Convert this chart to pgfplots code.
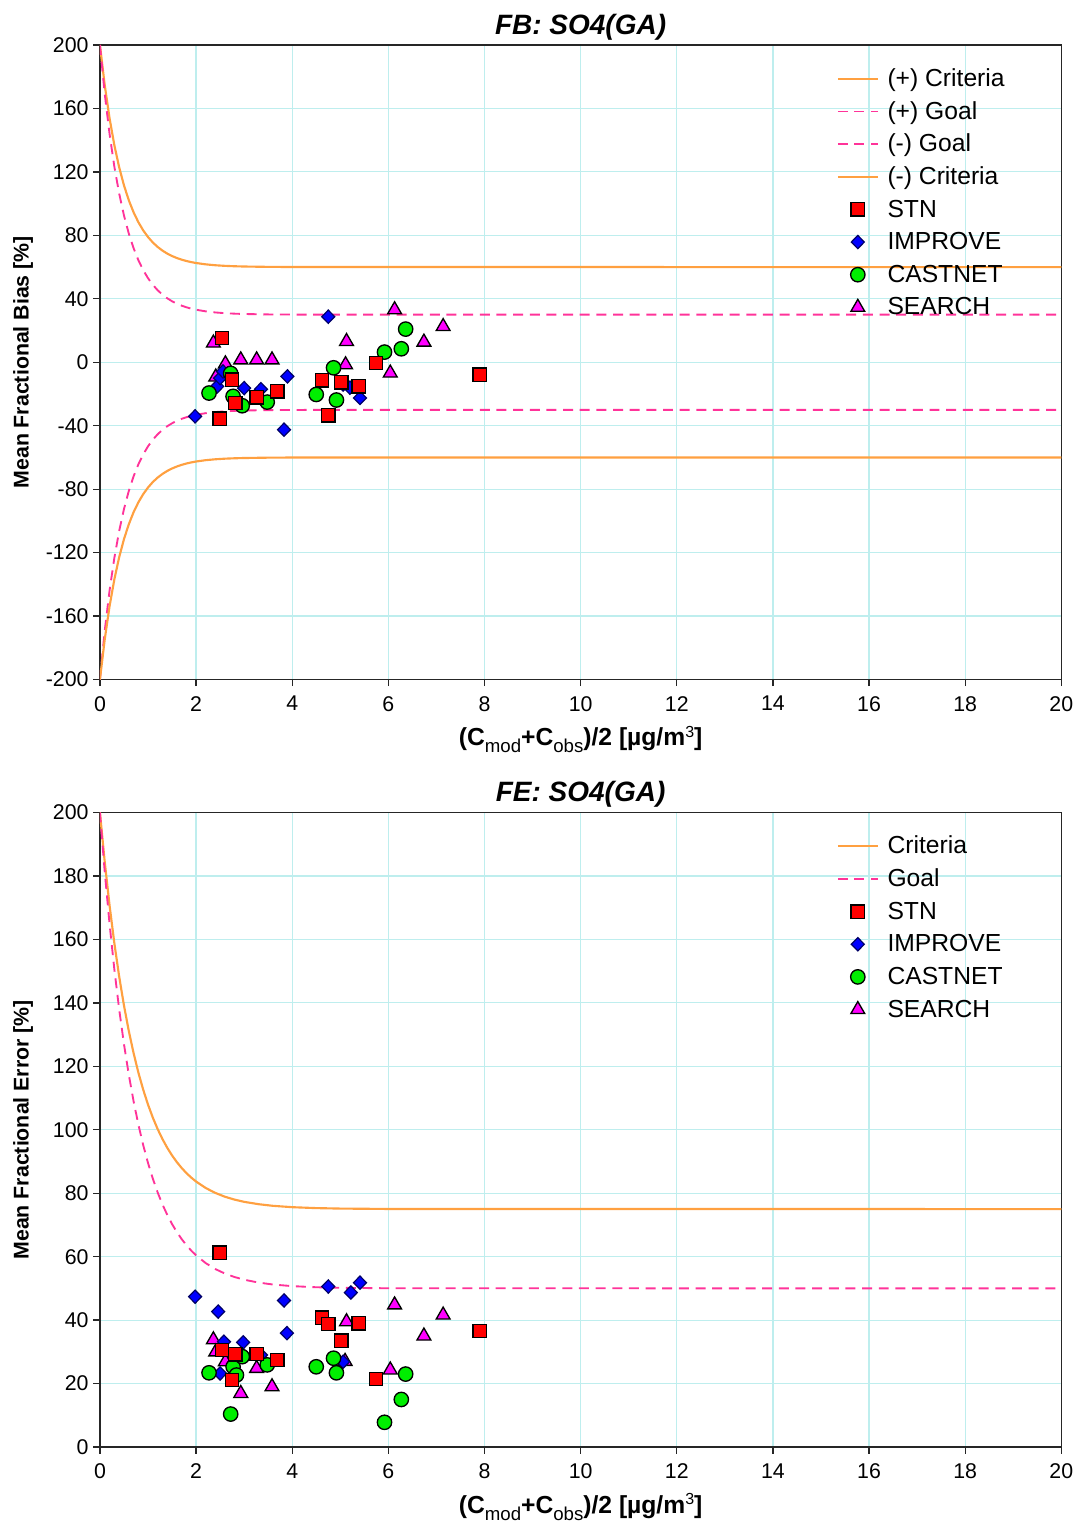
\documentclass[border=0pt]{standalone}
\usepackage{fontspec}
\setmainfont{Liberation Sans}
\usepackage{pgfplots}
\pgfplotsset{compat=1.18}
\definecolor{crit}{RGB}{255,160,64}
\definecolor{goal}{RGB}{255,51,153}
\definecolor{gridc}{RGB}{190,238,238}
\definecolor{stn}{RGB}{255,0,0}
\definecolor{imp}{RGB}{0,0,255}
\definecolor{cas}{RGB}{0,238,0}
\definecolor{sea}{RGB}{255,0,255}
\newcommand{\sub}[1]{\raisebox{-0.28em}{\mdseries\fontsize{14}{14}\selectfont #1}}
\newcommand{\xlab}{(C\sub{mod}+C\sub{obs})/2 [µg/m\raisebox{0.35em}{\mdseries\fontsize{12}{12}\selectfont 3}]}
\pgfplotsset{
  myaxis/.style={
    scale only axis, width=721.5pt, height=476.25pt,
    xmin=0, xmax=20, xtick={0,2,...,20},
    grid=major, major grid style={gridc, line width=0.9pt},
    axis line style={line width=1pt, black!85},
    tick align=outside, tick pos=left,
    major tick length=5pt, tick style={black!85, line width=1pt},
    /pgf/number format/assume math mode=true,
    ticklabel style={font=\fontsize{16}{19}\selectfont},
    xticklabel style={yshift=-4pt},
    title style={font=\bfseries\itshape\fontsize{21}{25}\selectfont, at={(axis description cs:0.5,1.016)}, anchor=center},
    xlabel style={font=\bfseries\fontsize{18.5}{21}\selectfont, at={(axis description cs:0.5,-0.0945)}, anchor=center},
    ylabel style={font=\bfseries\fontsize{16}{19}\selectfont, at={(axis description cs:-0.080,0.5)}, anchor=center},
    legend style={draw=none, fill=none, at={(0.762,0.977)}, anchor=north west,
      font=\fontsize{18.5}{22}\selectfont, row sep=0pt,
      nodes={inner sep=2pt, text height=16pt, text depth=4.5pt}},
    legend cell align=left,
    legend image code/.code={\draw[#1] (0pt,0pt) -- (30pt,0pt); \path (34.5pt,0pt);},
    critline/.style={crit, line width=1.6pt},
    goalline/.style={goal, line width=1.4pt, dash pattern=on 7.5pt off 5pt},
    mkleg/.style={legend image code/.code={\draw[mark repeat=2,mark phase=2,##1] plot coordinates {(0pt,0pt) (15pt,0pt) (30pt,0pt)}; \path (34.5pt,0pt);}},
    stnm/.style={only marks, mark=square*, mark size=5pt, mark options={draw=black, fill=stn, line width=1pt}},
    impm/.style={only marks, mark=diamond*, mark size=5pt, mark options={draw=black!60!blue, fill=imp, line width=0.9pt, xscale=1.3}},
    casm/.style={only marks, mark=*, mark size=5.4pt, mark options={draw=black, fill=cas, line width=1pt}},
    seam/.style={only marks, mark=triangle*, mark size=6pt, mark options={draw=black, fill=sea, line width=1pt}},
  }
}
\begin{document}
\begin{tikzpicture}
\useasboundingbox (-75pt,-635.25pt) rectangle (731.25pt,510pt);
% ---------------- FB ----------------
\begin{axis}[myaxis, ymin=-200, ymax=200, ytick={-200,-160,...,200},
  title={FB: SO4(GA)}, ylabel={Mean Fractional Bias [\%]}, xlabel={\xlab}]
\addplot[critline] coordinates {(0,200) (0.1,174.62) (0.2,153.84) (0.3,136.83) (0.4,122.91) (0.5,111.50) (0.6,102.17) (0.7,94.52) (0.8,88.27) (0.9,83.14) (1.0,78.95) (1.1,75.51) (1.2,72.70) (1.3,70.40) (1.4,68.51) (1.5,66.97) (1.6,65.71) (1.7,64.67) (1.8,63.82) (1.9,63.13) (2.0,62.56) (2.2,61.72) (2.4,61.15) (2.6,60.77) (2.8,60.52) (3.0,60.35) (3.5,60.13) (4.0,60.05) (5,60.01) (20,60)};
\addlegendentry{(+) Criteria}
\addplot[goalline] coordinates {(0,200) (0.1,169.18) (0.2,143.95) (0.3,123.30) (0.4,106.39) (0.5,92.54) (0.6,81.20) (0.7,71.92) (0.8,64.32) (0.9,58.10) (1.0,53.01) (1.1,48.84) (1.2,45.42) (1.3,42.63) (1.4,40.34) (1.5,38.46) (1.6,36.93) (1.7,35.67) (1.8,34.64) (1.9,33.80) (2.0,33.11) (2.2,32.09) (2.4,31.40) (2.6,30.94) (2.8,30.63) (3.0,30.42) (3.5,30.15) (4.0,30.06) (5,30.01) (20,30)};
\addlegendentry{(+) Goal}
\addplot[goalline] coordinates {(0,-200) (0.1,-169.18) (0.2,-143.95) (0.3,-123.30) (0.4,-106.39) (0.5,-92.54) (0.6,-81.20) (0.7,-71.92) (0.8,-64.32) (0.9,-58.10) (1.0,-53.01) (1.1,-48.84) (1.2,-45.42) (1.3,-42.63) (1.4,-40.34) (1.5,-38.46) (1.6,-36.93) (1.7,-35.67) (1.8,-34.64) (1.9,-33.80) (2.0,-33.11) (2.2,-32.09) (2.4,-31.40) (2.6,-30.94) (2.8,-30.63) (3.0,-30.42) (3.5,-30.15) (4.0,-30.06) (5,-30.01) (20,-30)};
\addlegendentry{(-) Goal}
\addplot[critline] coordinates {(0,-200) (0.1,-174.62) (0.2,-153.84) (0.3,-136.83) (0.4,-122.91) (0.5,-111.50) (0.6,-102.17) (0.7,-94.52) (0.8,-88.27) (0.9,-83.14) (1.0,-78.95) (1.1,-75.51) (1.2,-72.70) (1.3,-70.40) (1.4,-68.51) (1.5,-66.97) (1.6,-65.71) (1.7,-64.67) (1.8,-63.82) (1.9,-63.13) (2.0,-62.56) (2.2,-61.72) (2.4,-61.15) (2.6,-60.77) (2.8,-60.52) (3.0,-60.35) (3.5,-60.13) (4.0,-60.05) (5,-60.01) (20,-60)};
\addlegendentry{(-) Criteria}
\addlegendimage{stnm, mkleg}\addlegendentry{STN}
\addlegendimage{impm, mkleg}\addlegendentry{IMPROVE}
\addlegendimage{casm, mkleg}\addlegendentry{CASTNET}
\addlegendimage{seam, mkleg}\addlegendentry{SEARCH}
% SEARCH
\addplot[seam, forget plot] coordinates {(2.36,12.1) (2.41,-9.3) (2.61,-1.0) (2.93,1.5) (3.26,1.5) (3.58,1.5) (5.13,13.1) (5.11,-1.6) (6.04,-6.8) (6.13,33.1) (6.74,12.7) (7.14,22.5)};
% IMPROVE
\addplot[impm, forget plot] coordinates {(1.98,-34.1) (2.44,-15.2) (2.50,-10.0) (2.56,-5.8) (3.00,-16.3) (3.35,-17.0) (3.83,-42.5) (3.90,-8.9) (4.75,28.7) (5.06,-14.0) (5.20,-16.0) (5.41,-22.5)};
% CASTNET
\addplot[casm, forget plot] coordinates {(2.27,-19.4) (2.72,-7.0) (2.77,-21.5) (2.96,-27.4) (3.48,-25.1) (4.50,-20.3) (4.86,-3.5) (4.92,-23.8) (5.92,6.4) (6.27,8.5) (6.36,20.9)};
% STN
\addplot[stnm, forget plot] coordinates {(2.54,15.2) (2.49,-35.6) (2.75,-11.0) (2.82,-25.7) (3.26,-22.2) (3.69,-18.4) (4.62,-11.3) (4.75,-33.5) (5.02,-12.6) (5.38,-15.2) (5.74,-0.5) (7.90,-7.9)};
\end{axis}
% ---------------- FE ----------------
\begin{axis}[myaxis, at={(0pt,-576pt)}, ymin=0, ymax=200, ytick={0,20,...,200},
  title={FE: SO4(GA)}, ylabel={Mean Fractional Error [\%]}, xlabel={\xlab}]
\addplot[critline] coordinates {(0,200) (0.1,184.40) (0.2,170.74) (0.3,158.79) (0.4,148.33) (0.5,139.18) (0.6,131.17) (0.7,124.16) (0.8,118.02) (0.9,112.65) (1.0,107.95) (1.1,103.84) (1.2,100.24) (1.3,97.09) (1.4,94.33) (1.5,91.92) (1.6,89.81) (1.7,87.96) (1.8,86.34) (1.9,84.92) (2.0,83.69) (2.2,81.65) (2.4,80.10) (2.6,78.90) (2.8,77.99) (3.0,77.29) (3.3,76.54) (3.6,76.03) (4.0,75.60) (4.5,75.31) (5.0,75.16) (6.0,75.04) (20,75)};
\addlegendentry{Criteria}
\addplot[goalline] coordinates {(0,200) (0.1,181.28) (0.2,164.89) (0.3,150.55) (0.4,138.00) (0.5,127.01) (0.6,117.40) (0.7,108.99) (0.8,101.62) (0.9,95.18) (1.0,89.54) (1.1,84.60) (1.2,80.29) (1.3,76.50) (1.4,73.20) (1.5,70.30) (1.6,67.77) (1.7,65.55) (1.8,63.61) (1.9,61.91) (2.0,60.42) (2.2,57.98) (2.4,56.11) (2.6,54.68) (2.8,53.59) (3.0,52.75) (3.3,51.84) (3.6,51.23) (4.0,50.72) (4.5,50.37) (5.0,50.19) (6.0,50.05) (20,50)};
\addlegendentry{Goal}
\addlegendimage{stnm, mkleg}\addlegendentry{STN}
\addlegendimage{impm, mkleg}\addlegendentry{IMPROVE}
\addlegendimage{casm, mkleg}\addlegendentry{CASTNET}
\addlegendimage{seam, mkleg}\addlegendentry{SEARCH}
% SEARCH
\addplot[seam, forget plot] coordinates {(2.36,33.8) (2.41,30.0) (2.61,26.9) (2.93,16.9) (3.26,24.8) (3.58,19.0) (5.13,39.5) (5.10,27.0) (6.04,24.3) (6.13,44.8) (6.74,35.0) (7.14,41.6)};
% IMPROVE
\addplot[impm, forget plot] coordinates {(1.98,47.4) (2.46,42.7) (2.50,23.2) (2.58,33.2) (2.98,33.0) (3.35,29.0) (3.83,46.2) (3.89,35.9) (4.75,50.6) (5.06,26.9) (5.22,48.7) (5.41,51.8)};
% CASTNET
\addplot[casm, forget plot] coordinates {(2.27,23.4) (2.72,10.4) (2.77,25.3) (2.84,22.7) (2.96,28.5) (3.48,25.9) (4.50,25.3) (4.86,28.0) (4.92,23.4) (5.92,7.8) (6.27,15.0) (6.36,23.0)};
% STN
\addplot[stnm, forget plot] coordinates {(2.54,30.6) (2.49,61.3) (2.75,21.1) (2.82,29.2) (3.26,29.3) (3.69,27.4) (4.62,40.8) (4.75,38.8) (5.02,33.5) (5.38,39.0) (5.74,21.4) (7.90,36.6)};
\end{axis}
\end{tikzpicture}
\end{document}
